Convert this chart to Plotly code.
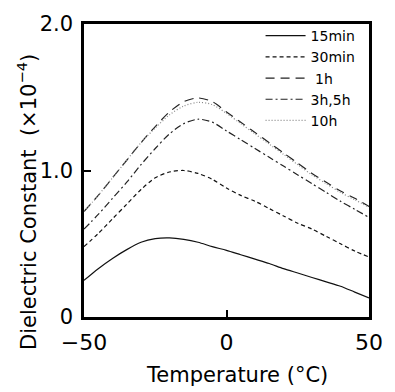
import plotly.graph_objects as go

temps = [-50, -45, -40, -35, -30, -25, -20, -15, -10, -5, 0, 5, 10, 15, 20, 25, 30, 35, 40, 45, 50]

eps_15min = [0.25, 0.33, 0.40, 0.46, 0.51, 0.535, 0.54, 0.53, 0.51, 0.48, 0.455, 0.425, 0.395, 0.365, 0.33, 0.30, 0.27, 0.24, 0.21, 0.17, 0.13]
eps_30min = [0.48, 0.57, 0.67, 0.77, 0.87, 0.95, 0.99, 1.0, 0.98, 0.94, 0.88, 0.83, 0.79, 0.74, 0.69, 0.64, 0.60, 0.55, 0.50, 0.45, 0.41]
eps_1h = [0.72, 0.83, 0.95, 1.07, 1.19, 1.30, 1.40, 1.47, 1.495, 1.47, 1.40, 1.33, 1.26, 1.19, 1.12, 1.05, 0.98, 0.92, 0.86, 0.81, 0.755]
eps_3h5h = [0.60, 0.70, 0.81, 0.92, 1.04, 1.15, 1.25, 1.32, 1.35, 1.33, 1.27, 1.21, 1.15, 1.09, 1.03, 0.97, 0.91, 0.85, 0.79, 0.735, 0.68]
eps_10h = [0.72, 0.83, 0.95, 1.07, 1.19, 1.29, 1.38, 1.44, 1.465, 1.45, 1.39, 1.32, 1.25, 1.18, 1.11, 1.04, 0.97, 0.91, 0.85, 0.80, 0.75]

series = [
    ("15min", eps_15min, "solid", "#111"),
    ("30min", eps_30min, "4px,3px", "#111"),
    (" 1h", eps_1h, "9px,6px", "#222"),
    ("3h,5h", eps_3h5h, "7px,3px,2px,3px", "#222"),
    ("10h", eps_10h, "1px,2px", "#888"),
]

fig = go.Figure()
for name, ys, dash, col in series:
    fig.add_trace(go.Scatter(x=temps, y=ys, mode="lines", name=name,
                             line=dict(color=col, width=1.2, dash=dash, shape="spline", smoothing=0.8)))

W, H = 395, 392
L, R, T, B = 84, 14, 20, 75
pw, ph = W - L - R, H - T - B

def px(x):
    return (x - L) / pw

def py(y):
    return (H - B - y) / ph

fig.update_layout(
    width=W, height=H,
    margin=dict(l=L, r=R, t=T, b=B),
    paper_bgcolor="white", plot_bgcolor="white",
    font=dict(family="DejaVu Sans", color="black"),
    showlegend=True,
    legend=dict(x=px(268), y=py(16), xanchor="left", yanchor="top",
                bgcolor="rgba(0,0,0,0)", font=dict(size=14), tracegroupgap=0,
                itemwidth=40),
    xaxis=dict(range=[-50, 50], tickvals=[-50, 0, 50], ticktext=["\u221250", "0", "50"],
               ticks="inside", ticklen=7, tickwidth=1.5, tickcolor="black",
               showline=True, linecolor="black", linewidth=2.5, mirror=True,
               showgrid=False, zeroline=False, tickfont=dict(size=22),
               ticklabelstandoff=4),
    yaxis=dict(range=[0, 2.0], tickvals=[0, 1.0, 2.0], ticktext=["0", "1.0", "2.0"],
               ticks="inside", ticklen=7, tickwidth=1.5, tickcolor="black",
               showline=True, linecolor="black", linewidth=2.5, mirror=True,
               showgrid=False, zeroline=False, tickfont=dict(size=21),
               ticklabelstandoff=4),
    annotations=[
        dict(text="Temperature (\u00b0C)", x=px(243), y=py(376), xref="paper", yref="paper",
             showarrow=False, font=dict(size=21), xanchor="center", yanchor="middle"),
        dict(text="Dielectric Constant  (\u00d710<sup>\u22124</sup>)", x=px(24), y=py(200),
             xref="paper", yref="paper", showarrow=False, textangle=-90,
             font=dict(size=21), xanchor="center", yanchor="middle"),
    ],
)

fig.write_html("out.html")
